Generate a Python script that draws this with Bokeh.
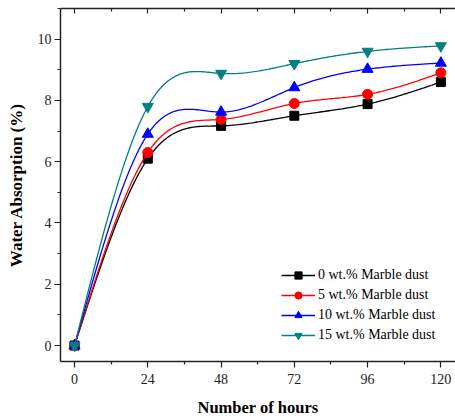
import numpy as np
from bokeh.plotting import figure
from bokeh.models import Range1d, FixedTicker, LinearAxis, Legend, LegendItem
from bokeh.embed import file_html
from bokeh.resources import INLINE

hours = [0, 24, 48, 72, 96, 120]
wa_0 = [0.0, 6.1, 7.17, 7.5, 7.88, 8.6]
wa_5 = [0.0, 6.3, 7.38, 7.9, 8.2, 8.9]
wa_10 = [0.0, 6.9, 7.62, 8.42, 9.02, 9.22]
wa_15 = [0.0, 7.8, 8.88, 9.2, 9.6, 9.78]
series_labels = ["0 wt.% Marble dust", "5 wt.% Marble dust",
                 "10 wt.% Marble dust", "15 wt.% Marble dust"]
x_ticks = [0, 24, 48, 72, 96, 120]
x_minor = [12, 36, 60, 84, 108]
y_ticks = [0, 2, 4, 6, 8, 10]
y_minor = [1, 3, 5, 7, 9, 11]

FONT = "Liberation Serif"


def natural_spline(x, y, n=40):
    x = np.asarray(x, float)
    y = np.asarray(y, float)
    m = len(x)
    h = np.diff(x)
    A = np.zeros((m, m))
    r = np.zeros(m)
    A[0, 0] = A[-1, -1] = 1
    for i in range(1, m - 1):
        A[i, i - 1] = h[i - 1]
        A[i, i] = 2 * (h[i - 1] + h[i])
        A[i, i + 1] = h[i]
        r[i] = 3 * ((y[i + 1] - y[i]) / h[i] - (y[i] - y[i - 1]) / h[i - 1])
    c = np.linalg.solve(A, r)
    xs, ys = [], []
    for i in range(m - 1):
        t = np.linspace(0, h[i], n, endpoint=(i == m - 2))
        b = (y[i + 1] - y[i]) / h[i] - h[i] * (2 * c[i] + c[i + 1]) / 3
        d = (c[i + 1] - c[i]) / (3 * h[i])
        xs.extend(x[i] + t)
        ys.extend(y[i] + b * t + c[i] * t ** 2 + d * t ** 3)
    return xs, ys


p = figure(width=455, height=419, output_backend="svg", toolbar_location=None,
           x_range=Range1d(-4.6, 124.8), y_range=Range1d(-0.52, 11.0),
           min_border_left=60, min_border_right=0, min_border_top=8,
           min_border_bottom=58, x_axis_location=None, y_axis_location=None)
p.outline_line_color = None
p.xgrid.visible = False
p.ygrid.visible = False
p.background_fill_color = "white"
p.border_fill_color = "white"


def style_axis(ax, ticks, minor, labels=True, inside=False):
    ax.ticker = FixedTicker(ticks=ticks, minor_ticks=minor)
    ax.axis_line_color = "#222222"
    ax.axis_line_width = 1.5
    ax.major_tick_line_color = "#222222"
    ax.minor_tick_line_color = "#222222"
    ax.major_tick_line_width = 1.2
    ax.minor_tick_line_width = 1.2
    if inside:
        ax.major_tick_in = 5
        ax.major_tick_out = 0
        ax.minor_tick_in = 3
        ax.minor_tick_out = 0
    else:
        ax.major_tick_in = 0
        ax.major_tick_out = 6
        ax.minor_tick_in = 0
        ax.minor_tick_out = 3
    if labels:
        ax.major_label_text_font = FONT
        ax.major_label_text_font_size = "14px"
        ax.major_label_text_color = "#222222"
    else:
        ax.major_label_overrides = {t: "" for t in ticks}
        ax.major_label_standoff = 0


xb = LinearAxis(axis_label="Number of hours")
style_axis(xb, x_ticks, x_minor)
xb.major_label_standoff = 6
xb.axis_label_standoff = 11
xb.axis_label_text_font = FONT
xb.axis_label_text_font_style = "bold"
xb.axis_label_text_font_size = "16.5px"
xb.axis_label_text_color = "black"
p.add_layout(xb, "below")

yl = LinearAxis(axis_label="Water Absorption (%)")
style_axis(yl, y_ticks, y_minor)
yl.major_label_standoff = 3
yl.axis_label_standoff = 9
yl.axis_label_text_font = FONT
yl.axis_label_text_font_style = "bold"
yl.axis_label_text_font_size = "17px"
yl.axis_label_text_color = "black"
p.add_layout(yl, "left")

xt = LinearAxis()
style_axis(xt, x_ticks, x_minor, labels=False, inside=True)
p.add_layout(xt, "above")

colors = ["black", "#FF0000", "#0000FF", "#008080"]
markers = ["square", "circle", "triangle", "inverted_triangle"]
sizes = [9, 10, 11, 11]
data = [wa_0, wa_5, wa_10, wa_15]

items = []
for vals, col, mk, sz, lab in zip(data, colors, markers, sizes, series_labels):
    xs, ys = natural_spline(hours, vals)
    lr = p.line(xs, ys, line_color=col, line_width=1.3)
    sr = p.scatter(hours, vals, marker=mk, size=sz, fill_color=col, line_color=col)
    items.append(LegendItem(label=lab, renderers=[lr, sr]))

legend = Legend(items=items, location=(221, 17))
legend.label_text_font = FONT
legend.label_text_font_size = "14px"
legend.label_text_color = "black"
legend.border_line_color = None
legend.background_fill_alpha = 0
legend.glyph_width = 34
legend.glyph_height = 18
legend.label_height = 18
legend.label_standoff = 3
legend.spacing = 2
legend.padding = 0
legend.margin = 0
p.add_layout(legend, "center")

open("out.html", "w").write(file_html(p, INLINE))
